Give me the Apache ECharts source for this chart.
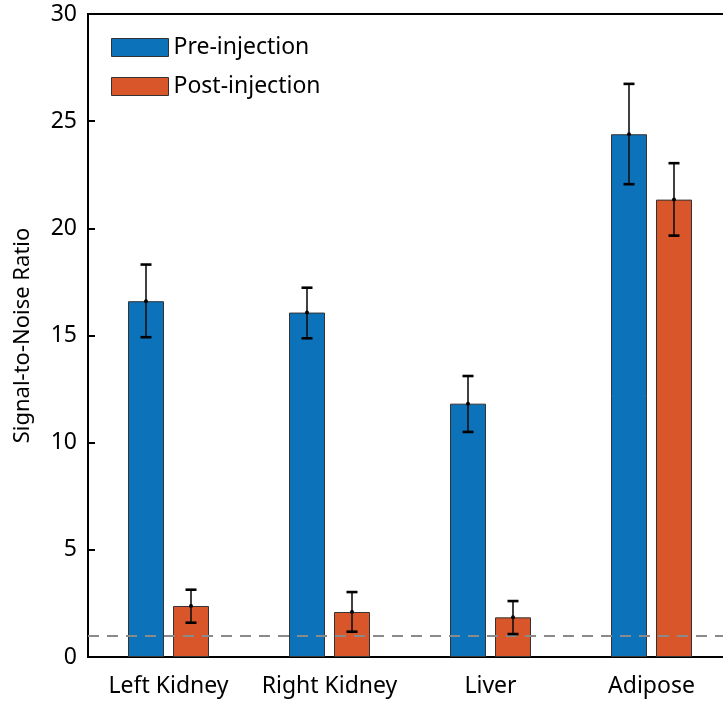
<!DOCTYPE html>
<html>
<head>
<meta charset="utf-8">
<script src="https://cdn.jsdelivr.net/npm/echarts@6/dist/echarts.min.js"></script>
<style>html,body{margin:0;padding:0;background:#fff}#c{width:723px;height:704px}</style>
</head>
<body>
<div id="c"></div>
<script>
var categories = ['Left Kidney', 'Right Kidney', 'Liver', 'Adipose'];
var preMean = [16.6, 16.07, 11.82, 24.39];
var preLow = [14.92, 14.87, 10.5, 22.06];
var preHigh = [18.31, 17.23, 13.11, 26.74];
var postMean = [2.38, 2.1, 1.85, 21.34];
var postLow = [1.6, 1.18, 1.07, 19.66];
var postHigh = [3.14, 3.03, 2.61, 23.04];
var yTicks = [0, 5, 10, 15, 20, 25, 30];
var threshold = 1;

var FONT = 'Noto Sans';
var BAR_W = 36, GAP_PX = 9;

function errSeries(name, low, high, mean, sign) {
  var data = categories.map(function (c, i) { return [i, low[i], high[i], mean[i]]; });
  return {
    type: 'custom', name: name + ' err', z: 5, silent: true,
    data: data,
    encode: { x: 0, y: [1, 2] },
    renderItem: function (params, api) {
      var i = api.value(0);
      var band = api.size([1, 0])[0];
      var off = sign * band * ((BAR_W + GAP_PX) / 2) / 161;
      var lo = api.coord([i, api.value(1)]);
      var hi = api.coord([i, api.value(2)]);
      var mid = api.coord([i, api.value(3)]);
      var x = lo[0] + off;
      var cap = 5.5;
      var st = { stroke: '#111', lineWidth: 1.6 };
      var cs = { stroke: '#000', lineWidth: 2.6 };
      return {
        type: 'group',
        children: [
          { type: 'line', shape: { x1: x, y1: lo[1], x2: x, y2: hi[1] }, style: st },
          { type: 'line', shape: { x1: x - cap, y1: lo[1], x2: x + cap, y2: lo[1] }, style: cs },
          { type: 'line', shape: { x1: x - cap, y1: hi[1], x2: x + cap, y2: hi[1] }, style: cs },
          { type: 'circle', shape: { cx: x, cy: mid[1], r: 2 }, style: { fill: '#000' } }
        ]
      };
    }
  };
}

var chart = echarts.init(document.getElementById('c'), null, { renderer: 'canvas' });
chart.setOption({
  animation: false,
  backgroundColor: '#fff',
  textStyle: { fontFamily: FONT },
  grid: { left: 88, top: 14, width: 644, height: 643, outerBoundsMode: 'none', containLabel: false,
    show: true, borderColor: '#000', borderWidth: 2, backgroundColor: 'transparent' },
  legend: {
    left: 111, top: 36, padding: 0, orient: 'vertical', itemWidth: 57, itemHeight: 18, itemGap: 16,
    icon: 'rect',
    textStyle: { fontSize: 23, color: '#000', fontFamily: FONT },
    data: [
      { name: 'Pre-injection', itemStyle: { borderColor: '#333', borderWidth: 1 } },
      { name: 'Post-injection', itemStyle: { borderColor: '#333', borderWidth: 1 } }
    ]
  },
  xAxis: [{
    type: 'category', data: categories, position: 'bottom',
    axisLine: { lineStyle: { color: '#000', width: 2 } },
    axisTick: { inside: true, alignWithLabel: true, length: 5, lineStyle: { color: '#000', width: 2 } },
    axisLabel: { fontSize: 23, color: '#000', margin: 18, interval: 0, hideOverlap: false, fontFamily: FONT }
  }, {
    type: 'category', data: categories, position: 'top',
    axisLine: { lineStyle: { color: '#000', width: 2 } },
    axisTick: { inside: true, alignWithLabel: true, length: 6, lineStyle: { color: '#000', width: 2 } },
    axisLabel: { show: false }
  }],
  yAxis: {
    type: 'value', min: 0, max: 30, interval: 5,
    name: 'Signal-to-Noise Ratio', nameLocation: 'middle', nameGap: 54,
    nameTextStyle: { fontSize: 22, color: '#000', fontFamily: FONT },
    axisLine: { show: true, lineStyle: { color: '#000', width: 2 } },
    axisTick: { show: true, inside: true, length: 7, lineStyle: { color: '#000', width: 2 } },
    axisLabel: { fontSize: 23, color: '#000', margin: 11, fontFamily: FONT,
      formatter: function (v) { return yTicks.indexOf(v) >= 0 ? String(v) : ''; } },
    splitLine: { show: false }
  },
  series: [
    {
      type: 'line', name: 'threshold', data: [], z: 1, silent: true,
      markLine: {
        silent: true, symbol: 'none', label: { show: false },
        lineStyle: { color: '#8a8a8a', type: [11, 8], width: 2 },
        data: [{ yAxis: threshold }]
      }
    },
    {
      type: 'bar', name: 'Pre-injection', data: preMean, barWidth: BAR_W, barGap: '25%', z: 3,
      itemStyle: { color: '#0C72BA', borderColor: '#333', borderWidth: 1 }
    },
    {
      type: 'bar', name: 'Post-injection', data: postMean, barWidth: BAR_W, barGap: '25%', z: 3,
      itemStyle: { color: '#D9552A', borderColor: '#333', borderWidth: 1 }
    },
    errSeries('Pre-injection', preLow, preHigh, preMean, -1),
    errSeries('Post-injection', postLow, postHigh, postMean, 1)
  ]
});
</script>
</body>
</html>
